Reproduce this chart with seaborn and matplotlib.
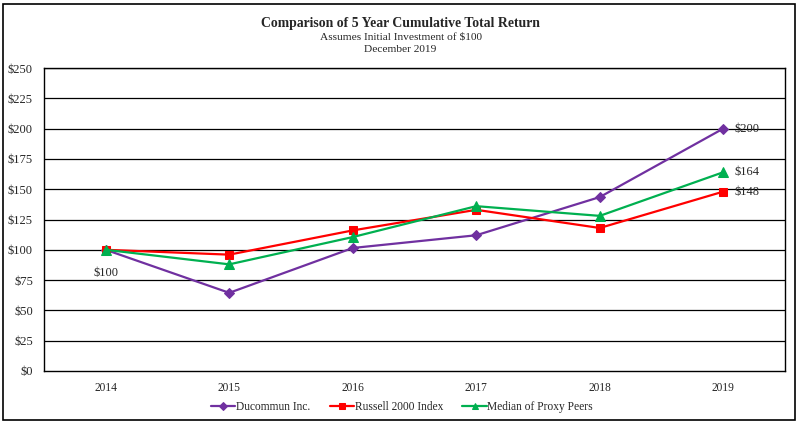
import matplotlib
matplotlib.use("Agg")
import matplotlib.pyplot as plt
import seaborn as sns
import pandas as pd
from matplotlib.patches import Rectangle

years = [2014, 2015, 2016, 2017, 2018, 2019]
series_names = ["Ducommun Inc.", "Russell 2000 Index", "Median of Proxy Peers"]
ducommun = [100, 64.5, 101.5, 112, 143.5, 200]
russell = [100, 96, 116, 133, 118, 148]
peers = [100, 88, 110.5, 136, 128, 164]
end_labels = ["$200", "$148", "$164"]
yticks = [0, 25, 50, 75, 100, 125, 150, 175, 200, 225, 250]
ytick_labels = ["$" + str(v) for v in yticks]

colors = {"Ducommun Inc.": "#7030A0", "Russell 2000 Index": "#FF0000", "Median of Proxy Peers": "#00B050"}
markers = {"Ducommun Inc.": "D", "Russell 2000 Index": "s", "Median of Proxy Peers": "^"}
msizes = {"Ducommun Inc.": 4.8, "Russell 2000 Index": 6, "Median of Proxy Peers": 7}

df = pd.DataFrame({
    "year": years * 3,
    "value": ducommun + russell + peers,
    "series": [series_names[0]] * 6 + [series_names[1]] * 6 + [series_names[2]] * 6,
})

sns.set_style("white")
plt.rcParams["font.family"] = ["Liberation Serif", "DejaVu Serif"]

fig = plt.figure(figsize=(8.01, 4.24), dpi=100)
ax = fig.add_axes([44 / 801, 1 - 371 / 424, (785 - 44) / 801, (371 - 68) / 424])

for name in series_names:
    sub = df[df["series"] == name]
    sns.lineplot(data=sub, x="year", y="value", color=colors[name], marker=markers[name],
                 markersize=msizes[name], markeredgecolor=colors[name], linewidth=1.6,
                 label=name, ax=ax, zorder=3)

ax.set_xlim(2013.5, 2019.5)
ax.set_ylim(0, 250)
ax.set_yticks(yticks)
ax.set_yticklabels(ytick_labels, fontsize=9)
ax.set_xticks(years)
ax.set_xticklabels([str(y) for y in years], fontsize=8.3)
ax.set_xlabel("")
ax.set_ylabel("")
for y in yticks[1:]:
    ax.axhline(y, color="black", linewidth=0.9, zorder=1)
for s in ax.spines.values():
    s.set_color("black")
    s.set_linewidth(1)
ax.tick_params(axis="y", direction="out", length=4, width=1, color="black", pad=4)
ax.tick_params(axis="x", direction="in", length=4, width=1, color="black", pad=8)

# data labels
ax.annotate("$100", xy=(years[0], ducommun[0]), xytext=(0, -17), textcoords="offset points",
            ha="center", va="center", fontsize=9)
end_vals = [ducommun[-1], russell[-1], peers[-1]]
for lbl, v in zip(end_labels, end_vals):
    ax.annotate(lbl, xy=(years[-1], v), xytext=(8, 0), textcoords="offset points",
                ha="left", va="center", fontsize=9)

handles, labels = ax.get_legend_handles_labels()
ax.get_legend().remove() if ax.get_legend() else None
leg = fig.legend(handles, labels, loc="center", bbox_to_anchor=(402 / 801, 1 - 407 / 424),
                 ncol=3, frameon=False, fontsize=8.3, handlelength=2.1, handletextpad=0.05,
                 columnspacing=1.7)
for h in leg.legend_handles:
    h.set_linewidth(1.6)
    h.set_markersize(4.5)

fig.text(0.5, 1 - 23 / 424, "Comparison of 5 Year Cumulative Total Return", ha="center", va="center",
         fontsize=9.9, fontweight="bold")
fig.text(0.5, 1 - 37 / 424, "Assumes Initial Investment of $100", ha="center", va="center", fontsize=8.2)
fig.text(0.5, 1 - 50 / 424, "December 2019", ha="center", va="center", fontsize=8.2)

fig.patches.append(Rectangle((3 / 801, 1 - 420 / 424), (795 - 3) / 801, (420 - 4) / 424,
                             transform=fig.transFigure, fill=False, edgecolor="black", linewidth=1.2))

fig.savefig("out.png", dpi=100)
